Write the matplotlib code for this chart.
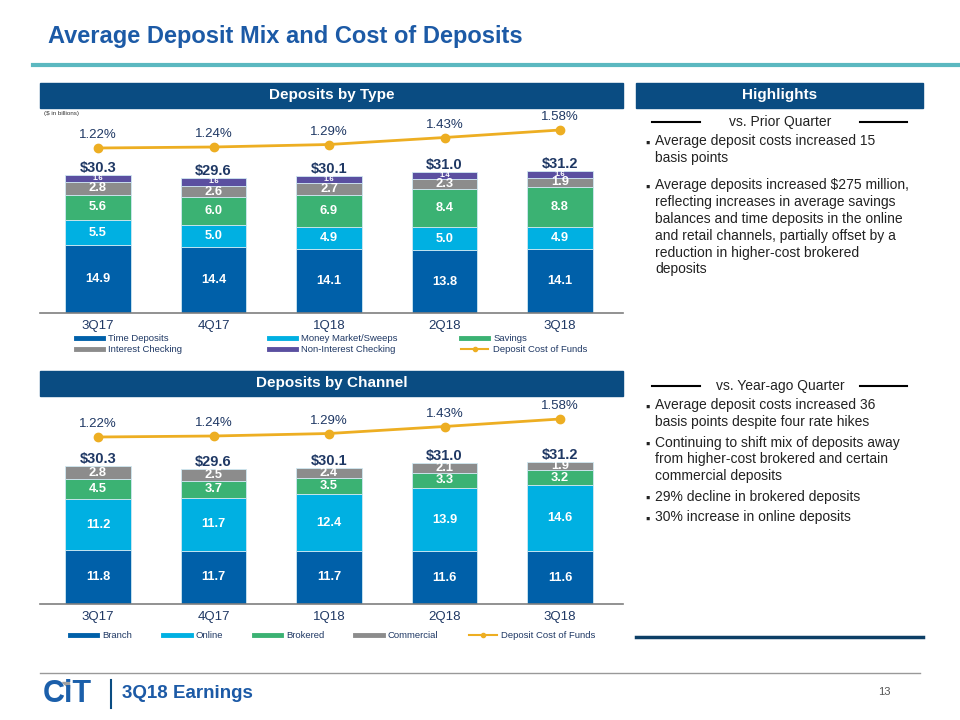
import matplotlib.pyplot as plt
from matplotlib.lines import Line2D
from matplotlib.patches import Rectangle, Polygon

plt.rcParams['font.family'] = ['Liberation Sans', 'DejaVu Sans']

# data ($ in billions)
quarters = ['3Q17', '4Q17', '1Q18', '2Q18', '3Q18']
totals = [30.3, 29.6, 30.1, 31.0, 31.2]
cost_of_funds = [1.22, 1.24, 1.29, 1.43, 1.58]

time_deposits = [14.9, 14.4, 14.1, 13.8, 14.1]
money_market = [5.5, 5.0, 4.9, 5.0, 4.9]
savings = [5.6, 6.0, 6.9, 8.4, 8.8]
interest_checking = [2.8, 2.6, 2.7, 2.3, 1.9]
non_interest_checking = [1.6, 1.6, 1.6, 1.4, 1.6]

branch = [11.8, 11.7, 11.7, 11.6, 11.6]
online = [11.2, 11.7, 12.4, 13.9, 14.6]
brokered = [4.5, 3.7, 3.5, 3.3, 3.2]
commercial = [2.8, 2.5, 2.4, 2.1, 1.9]

type_names = ['Time Deposits', 'Money Market/Sweeps', 'Savings',
              'Interest Checking', 'Non-Interest Checking']
channel_names = ['Branch', 'Online', 'Brokered', 'Commercial']

DARK = '#0060A9'
CYAN = '#00B0E2'
GREEN = '#3BB273'
GRAY = '#8C8C8C'
PURPLE = '#5A4FA0'
GOLD = '#EDAE22'
NAVY = '#1F3864'
HEAD = '#0A4C82'
TITLE = '#1C5AA6'

W, H = 960, 720
fig = plt.figure(figsize=(9.6, 7.2), dpi=100)


def px_axes(x0, y0, x1, y1):
    return fig.add_axes([x0 / W, 1 - y1 / H, (x1 - x0) / W, (y1 - y0) / H])


# overlay for slide decorations (pixel coords)
bg = px_axes(0, 0, W, H)
bg.set_xlim(0, W)
bg.set_ylim(H, 0)
bg.axis('off')

bg.text(48, 37, 'Average Deposit Mix and Cost of Deposits', fontsize=17,
        fontweight='bold', color=TITLE, va='center')
bg.plot([33, 960], [65, 65], color='#5BB8C0', lw=3)

for x0, x1, y0, label in [(40, 623, 83, 'Deposits by Type'),
                          (636, 923, 83, 'Highlights'),
                          (40, 623, 371, 'Deposits by Channel')]:
    bg.add_patch(Rectangle((x0, y0), x1 - x0, 25, color=HEAD))
    bg.text((x0 + x1) / 2, y0 + 12.5, label, color='white', fontsize=11,
            fontweight='bold', ha='center', va='center')

bg.text(44, 113, '($ in billions)', fontsize=4.5, va='center', color='#333333')

# highlights text
for yc, head in [(122, 'vs. Prior Quarter'), (386, 'vs. Year-ago Quarter')]:
    bg.text(780, yc, head, fontsize=10, ha='center', va='center', color='#222222')
    bg.plot([652, 700], [yc, yc], color='black', lw=1.5)
    bg.plot([860, 907], [yc, yc], color='black', lw=1.5)

bullets = [
    (142, 'Average deposit costs increased 15\nbasis points'),
    (186, 'Average deposits increased $275 million,\nreflecting increases in average savings\n'
          'balances and time deposits in the online\nand retail channels, partially offset by a\n'
          'reduction in higher-cost brokered\ndeposits'),
    (406, 'Average deposit costs increased 36\nbasis points despite four rate hikes'),
    (443, 'Continuing to shift mix of deposits away\nfrom higher-cost brokered and certain\n'
          'commercial deposits'),
    (497, '29% decline in brokered deposits'),
    (518, '30% increase in online deposits'),
]
for yb, txt in bullets:
    bg.text(648, yb + 1.5, '\u25aa', fontsize=9, va='center', ha='center', color='#222222')
    bg.text(655, yb - 7.5, txt, fontsize=10, va='top', color='#222222', linespacing=1.25)

bg.plot([636, 923], [637, 637], color='#0D3F66', lw=2.5)

# footer
bg.plot([40, 920], [673, 673], color='#999999', lw=1)
bg.text(43, 694, 'CiT', fontsize=22, fontweight='bold', color='#1B5FAA', va='center')
bg.add_patch(Polygon([[62, 682], [69, 682], [69, 688]], closed=True, color='#A0A0A0'))
bg.plot([111, 111], [680, 708], color=HEAD, lw=1.5)
bg.text(122, 694, '3Q18 Earnings', fontsize=13.5, fontweight='bold', color=TITLE, va='center')
bg.text(884, 692, '13', fontsize=8, color='#555555', va='center', ha='center')


def draw_chart(y_top, y_base, y_dot, segs, colors, tiny_last):
    ax = px_axes(40, y_top, 623, y_base)
    ax.patch.set_alpha(0)
    x = list(range(len(quarters)))
    bottom = [0.0] * len(quarters)
    for k, (vals, c) in enumerate(zip(segs, colors)):
        bars = ax.bar(x, vals, 0.57, bottom=bottom, color=c, edgecolor='#cfe8f2',
                      linewidth=0.6, zorder=2)
        fs = 5.5 if (tiny_last and k == len(segs) - 1) else 9.3
        ax.bar_label(bars, labels=[f'{v:.1f}' for v in vals], label_type='center',
                     color='white', fontsize=fs, fontweight='bold')
        bottom = [b + v for b, v in zip(bottom, vals)]
    for i, t in enumerate(totals):
        ax.annotate(f'${t:.1f}', (i, bottom[i]), xytext=(0, 0), textcoords='offset points',
                    ha='center', va='bottom', fontsize=10.5, fontweight='bold', color=NAVY)
    ax.set_xlim(-0.502, 4.545)
    ax.set_ylim(0, (y_base - y_top) / 4.55)
    for s in ['top', 'left', 'right']:
        ax.spines[s].set_visible(False)
    ax.spines['bottom'].set_color('#7F7F7F')
    ax.spines['bottom'].set_linewidth(1.2)
    ax.set_yticks([])
    ax.set_xticks(x, quarters)
    ax.tick_params(axis='x', length=0, pad=5, labelsize=9.5, labelcolor=NAVY)

    ax2 = ax.twinx()
    ax2.patch.set_alpha(0)
    lo = 1.22 - (y_base - y_dot) / 50
    ax2.set_ylim(lo, lo + (y_base - y_top) / 50)
    ax2.plot(x, cost_of_funds, color=GOLD, marker='o', ms=6, lw=2, zorder=3)
    for i, v in enumerate(cost_of_funds):
        ax2.annotate(f'{v:.2f}%', (i, v), xytext=(0, 5), textcoords='offset points',
                     ha='center', va='bottom', fontsize=9.5, color=NAVY)
    ax2.axis('off')
    return ax


draw_chart(100, 313, 148, [time_deposits, money_market, savings, interest_checking,
                           non_interest_checking], [DARK, CYAN, GREEN, GRAY, PURPLE], True)
draw_chart(392, 604, 437, [branch, online, brokered, commercial],
           [DARK, CYAN, GREEN, GRAY], False)

# legends
cost_handle = Line2D([], [], color=GOLD, lw=1.5, marker='o', ms=3)
type_handles = [Line2D([], [], color=c, lw=3.5) for c in [DARK, CYAN, GREEN, GRAY, PURPLE]]
cols = [([type_handles[0], type_handles[3]], [type_names[0], type_names[3]], 76),
        ([type_handles[1], type_handles[4]], [type_names[1], type_names[4]], 269),
        ([type_handles[2], cost_handle], [type_names[2], 'Deposit Cost of Funds'], 461)]
for hs, ls, x0 in cols:
    fig.legend(hs, ls, loc='upper left', bbox_to_anchor=(x0 / W, 1 - 334 / H),
               frameon=False, fontsize=6.8, handlelength=2.9, handletextpad=0.5,
               labelspacing=0.25, borderpad=0, borderaxespad=0, labelcolor=NAVY)

chan_handles = [Line2D([], [], color=c, lw=3.5) for c in [DARK, CYAN, GREEN, GRAY]]
fig.legend(chan_handles + [cost_handle], channel_names + ['Deposit Cost of Funds'],
           loc='center left', bbox_to_anchor=(70 / W, 1 - 636 / H), ncol=5,
           frameon=False, fontsize=6.8, handlelength=2.9, handletextpad=0.5,
           columnspacing=3.3, borderpad=0, borderaxespad=0, labelcolor=NAVY)

fig.savefig('out.png', dpi=100)
